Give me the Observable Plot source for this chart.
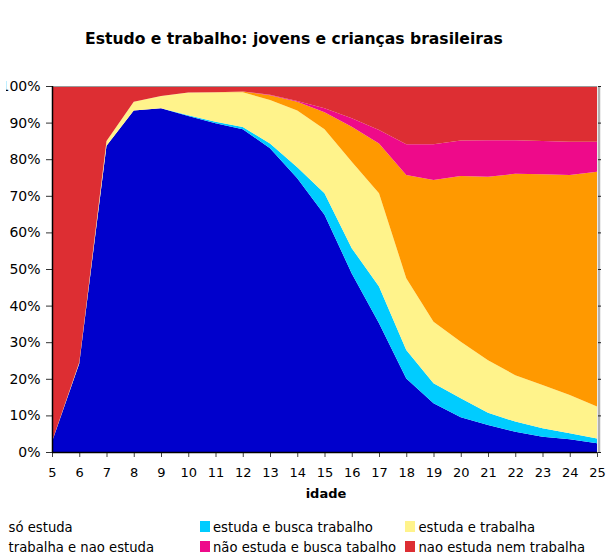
<!DOCTYPE html>
<html>
<head>
<meta charset="utf-8">
<script src="https://cdn.jsdelivr.net/npm/d3@7"></script>
<script src="https://cdn.jsdelivr.net/npm/@observablehq/plot@0.6"></script>
<style>
  body { margin: 0; background: #fff; font-family: "DejaVu Sans", Verdana, sans-serif; color: #000; }
  #wrap { position: relative; width: 610px; height: 556px; overflow: hidden; background: #fff; }
  #title { position: absolute; z-index: 2; left: 85px; top: 32px; font-weight: bold; font-size: 15.6px; line-height: 15.6px; white-space: nowrap; }
  #chart { position: absolute; z-index: 1; left: 0; top: 0; }
  #chart svg { clip-path: inset(0 0 0 6px); }
  #xlabel { position: absolute; z-index: 2; left: 0; width: 652px; text-align: center; top: 487px; font-weight: bold; font-size: 13px; line-height: 13px; }
  #legend { position: absolute; z-index: 2; left: 0; top: 0; }
  .leg { position: absolute; font-size: 13.2px; line-height: 13.2px; white-space: nowrap; }
  .sw { position: absolute; width: 10px; height: 11px; }
</style>
</head>
<body>
<div id="wrap">
  <div id="chart"></div>
  <div id="title">Estudo e trabalho: jovens e crianças brasileiras</div>
  <div id="xlabel">idade</div>
  <div id="legend"></div>
</div>
<script>
// ---- data ----
const ages = [5, 6, 7, 8, 9, 10, 11, 12, 13, 14, 15, 16, 17, 18, 19, 20, 21, 22, 23, 24, 25];

const seriesNames = [
  "só estuda",
  "estuda e busca trabalho",
  "estuda e trabalha",
  "trabalha e nao estuda",
  "não estuda e busca tabalho",
  "nao estuda nem trabalha"
];

const seriesColors = ["#0000CC", "#00CCFF", "#FFF38B", "#FF9900", "#EE0A8A", "#DD2E33"];

// percentages per age (5..25)
const soEstuda          = [2.8, 24.2, 83.7, 93.3, 93.9, 91.8, 89.8, 88.2, 83.0, 74.8, 64.8, 48.8, 35.2, 20.1, 13.3, 9.5, 7.4, 5.5, 4.2, 3.5, 2.4];
const estudaBusca       = [0, 0, 0, 0, 0, 0.2, 0.4, 0.6, 1.3, 3.0, 5.9, 6.9, 10.0, 7.8, 5.5, 5.2, 3.3, 2.8, 2.3, 1.6, 1.3];
const estudaTrabalha    = [0.1, 0.3, 1.3, 2.4, 3.4, 6.2, 8.1, 9.5, 11.9, 15.5, 17.5, 23.6, 25.5, 19.6, 16.8, 15.4, 14.4, 12.7, 11.8, 10.5, 8.7];
const trabalhaNaoEstuda = [0, 0, 0, 0, 0, 0, 0, 0.2, 1.3, 2.4, 4.6, 9.6, 13.6, 28.2, 38.7, 45.3, 50.1, 55.0, 57.6, 60.1, 64.2];
const naoEstudaBusca    = [0, 0, 0, 0, 0, 0, 0, 0, 0.1, 0.2, 1.1, 2.3, 3.7, 8.4, 9.8, 9.7, 10.0, 9.2, 9.1, 9.1, 8.2];
const naoEstudaNem      = [97.1, 75.5, 15.0, 4.3, 2.7, 1.8, 1.7, 1.5, 2.4, 4.1, 6.1, 8.8, 12.0, 15.9, 15.9, 14.9, 14.8, 14.8, 15.0, 15.2, 15.2];

const yTicks = [0, 10, 20, 30, 40, 50, 60, 70, 80, 90, 100];

// ---- build table ----
const seriesValues = [soEstuda, estudaBusca, estudaTrabalha, trabalhaNaoEstuda, naoEstudaBusca, naoEstudaNem];
const rows = [];
seriesNames.forEach((s, i) => ages.forEach((a, j) => rows.push({idade: a, serie: s, valor: seriesValues[i][j]})));

const chart = Plot.plot({
  width: 610,
  height: 480,
  marginTop: 86,
  marginBottom: 28,
  marginLeft: 52,
  marginRight: 13,
  style: {fontFamily: "DejaVu Sans, Verdana, sans-serif", background: "transparent", color: "#000"},
  x: {domain: [ages[0], ages[ages.length - 1]]},
  y: {domain: [0, 100]},
  color: {domain: seriesNames, range: seriesColors},
  marks: [
    Plot.areaY(rows, {x: "idade", y: "valor", fill: "serie", order: seriesNames, curve: "linear"}),
    Plot.ruleY([yTicks[yTicks.length - 1]], {stroke: "#9a9a9a", strokeWidth: 1}),
    Plot.ruleX([ages[ages.length - 1]], {stroke: "#b0b0b0", strokeWidth: 2.5, dx: 1.5}),
    Plot.axisY({ticks: yTicks, tickFormat: d => d + "%", tickSize: 6, tickPadding: 6, fontSize: 14, label: null, stroke: "#333"}),
    Plot.axisY({anchor: "right", ticks: yTicks, tickFormat: () => "", tickSize: 3, label: null, stroke: "#222"}),
    Plot.axisX({ticks: ages, tickFormat: d => String(d), tickSize: 5, tickPadding: 10, fontSize: 13, label: null, stroke: "#444"}),
    Plot.ruleX([ages[0]], {stroke: "#000", strokeWidth: 1.5}),
    Plot.ruleY([yTicks[0]], {stroke: "#000", strokeWidth: 1.5})
  ]
});
document.getElementById("chart").appendChild(chart);

// ---- legend (three columns, two rows) ----
const legCols = [8.6, 213, 418.5];
const legRows = [521, 541];
const legend = document.getElementById("legend");
seriesNames.forEach((s, i) => {
  const col = i % 3;
  const row = i < 3 ? 0 : 1;
  const sw = document.createElement("div");
  sw.className = "sw";
  sw.style.left = (col === 0 ? -30 : legCols[col] - 13.5) + "px";
  sw.style.top = legRows[row] + "px";
  sw.style.background = seriesColors[i];
  legend.appendChild(sw);
  const t = document.createElement("div");
  t.className = "leg";
  t.style.left = legCols[col] + "px";
  t.style.top = (legRows[row] - 0.5) + "px";
  t.textContent = s;
  legend.appendChild(t);
});
</script>
</body>
</html>
